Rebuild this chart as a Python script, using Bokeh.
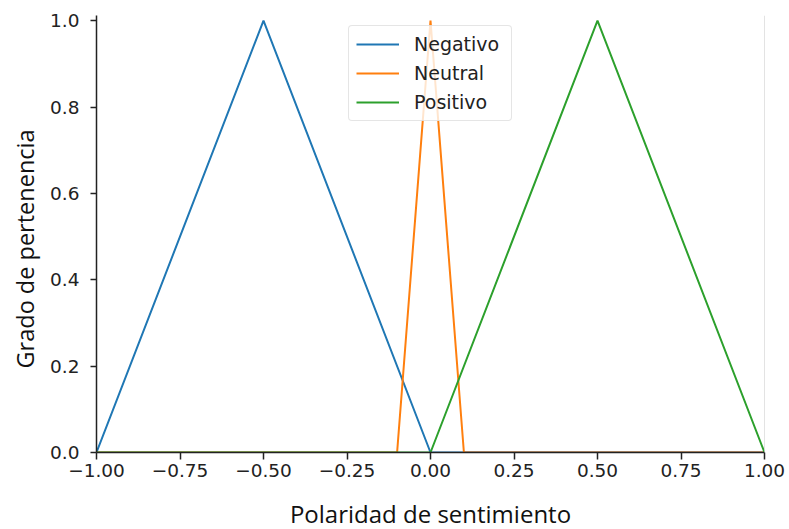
from bokeh.plotting import figure
from bokeh.models import Range1d, FixedTicker, Legend, LegendItem, Span, Title
from bokeh.embed import file_html
from bokeh.resources import INLINE

# ---- data ----
x_neg = [-1.0, -0.5, 0.0, 1.0]
y_neg = [0.0, 1.0, 0.0, 0.0]
x_neu = [-1.0, -0.1, 0.0, 0.1, 1.0]
y_neu = [0.0, 0.0, 1.0, 0.0, 0.0]
x_pos = [-1.0, 0.0, 0.5, 1.0]
y_pos = [0.0, 0.0, 1.0, 0.0]
series_names = ["Negativo", "Neutral", "Positivo"]
series_colors = ["#1f77b4", "#ff7f0e", "#2ca02c"]
x_ticks = [-1.0, -0.75, -0.5, -0.25, 0.0, 0.25, 0.5, 0.75, 1.0]
x_tick_labels = ["\u22121.00", "\u22120.75", "\u22120.50", "\u22120.25", "0.00",
                 "0.25", "0.50", "0.75", "1.00"]
y_ticks = [0.0, 0.2, 0.4, 0.6, 0.8, 1.0]
y_tick_labels = ["0.0", "0.2", "0.4", "0.6", "0.8", "1.0"]
x_label = "Polaridad de sentimiento"
y_label = "Grado de pertenencia"

p = figure(frame_width=668, frame_height=437, output_backend="svg", toolbar_location=None,
           x_range=Range1d(-1.0, 1.0), y_range=Range1d(0.0, 1.012),
           min_border_left=96, min_border_right=25, min_border_top=15,
           min_border_bottom=77)
p.xgrid.visible = False
p.ygrid.visible = False
p.outline_line_color = None
p.background_fill_color = "white"
p.border_fill_color = "white"

# faint right edge line
p.add_layout(Span(location=1.0, dimension="height", line_color="#c8c8c8", line_width=1))

renderers = []
for xs, ys, c in [(x_neg, y_neg, series_colors[0]),
                  (x_neu, y_neu, series_colors[1]),
                  (x_pos, y_pos, series_colors[2])]:
    r = p.line(xs, ys, line_color=c, line_width=2)
    renderers.append(r)

legend = Legend(items=[LegendItem(label=n, renderers=[r]) for n, r in zip(series_names, renderers)],
                location="top_center")
legend.label_text_font = "DejaVu Sans"
legend.label_text_font_size = "19px"
legend.label_text_color = "#222222"
legend.glyph_width = 43
legend.glyph_height = 22
legend.label_height = 22
legend.label_width = 90
legend.label_standoff = 15
legend.spacing = 7
legend.padding = 7
legend.margin = 10
legend.border_line_color = "#cccccc"
legend.border_line_width = 1
legend.background_fill_color = "white"
legend.background_fill_alpha = 0.8
if "border_radius" in Legend.properties():
    legend.border_radius = 4
p.add_layout(legend)

for ax in (p.xaxis[0], p.yaxis[0]):
    ax.axis_line_color = "#222222"
    ax.axis_line_width = 1.5
    ax.major_tick_line_color = "#222222"
    ax.major_tick_line_width = 1.5
    ax.major_tick_in = 0
    ax.minor_tick_line_color = None
    ax.major_label_text_font = "DejaVu Sans"
    ax.major_label_text_font_size = "18.5px"
    ax.major_label_text_color = "#222222"

p.xaxis.ticker = FixedTicker(ticks=x_ticks)
p.xaxis.major_label_overrides = {t: s for t, s in zip(x_ticks, x_tick_labels)}
p.xaxis.major_tick_out = 7
p.xaxis.major_label_standoff = 4
p.xaxis.axis_label = x_label
p.xaxis.axis_label_text_font = "Open Sans"
p.xaxis.axis_label_text_font_size = "24px"
p.xaxis.axis_label_text_font_style = "normal"
p.xaxis.axis_label_text_color = "#111111"
p.xaxis.axis_label_standoff = 17

p.yaxis.ticker = FixedTicker(ticks=y_ticks)
p.yaxis.major_label_overrides = {t: s for t, s in zip(y_ticks, y_tick_labels)}
p.yaxis.major_tick_out = 6
p.yaxis.major_label_standoff = 11

# y-axis title (sits a bit below the frame centre, as in the reference)
ytitle = Title(text=y_label, align="left", offset=84, standoff=13,
               text_font="Open Sans", text_font_size="23.5px",
               text_font_style="normal", text_color="#111111")
p.add_layout(ytitle, "left")

open("out.html", "w").write(file_html(p, INLINE))
